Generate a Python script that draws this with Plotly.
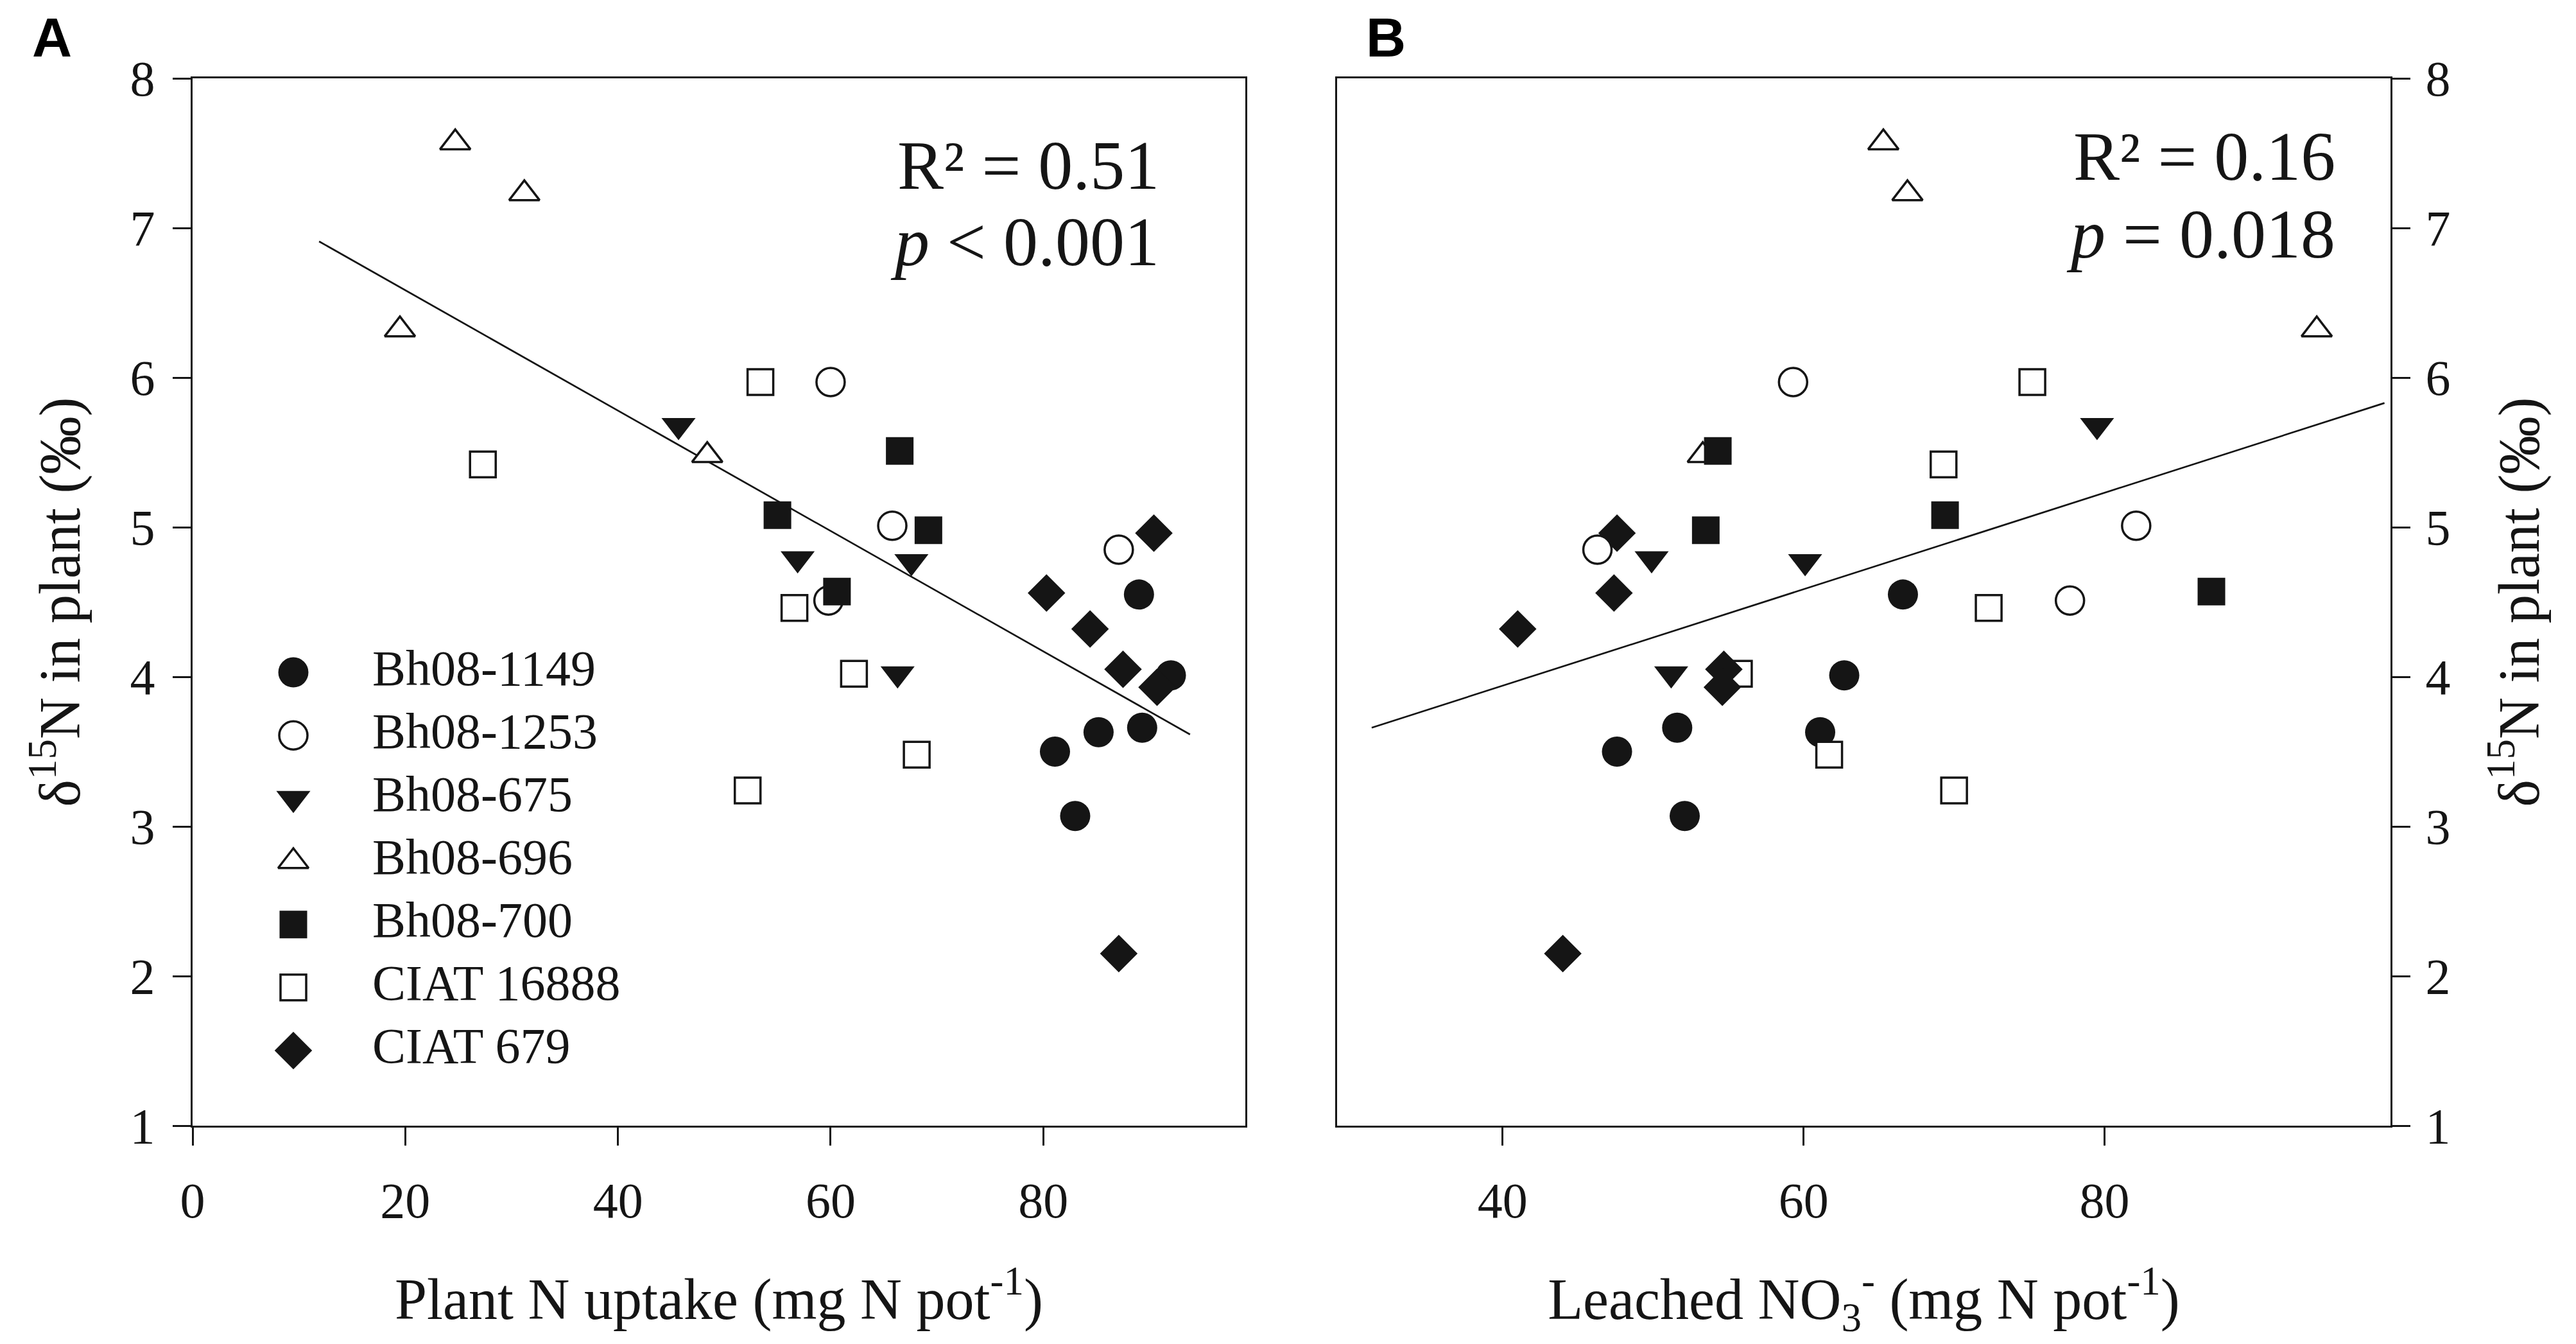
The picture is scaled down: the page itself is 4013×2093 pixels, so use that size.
import plotly.graph_objects as go

# varieties, in legend order
varieties = ["Bh08-1149", "Bh08-1253", "Bh08-675", "Bh08-696", "Bh08-700", "CIAT 16888", "CIAT 679"]

# delta15N in plant (per mil) and the two x variables
bh1149_d15n = [4.55, 4.01, 3.66, 3.63, 3.50, 3.07]
bh1149_uptake = [89.0, 92.0, 89.3, 85.2, 81.1, 83.0]
bh1149_leached = [66.6, 62.7, 51.6, 61.1, 47.6, 52.1]

bh1253_d15n = [5.97, 5.01, 4.51, 4.85]
bh1253_uptake = [60.0, 65.8, 59.8, 87.1]
bh1253_leached = [59.3, 82.1, 77.7, 46.3]

bh675_d15n = [5.68, 4.79, 4.77, 4.02]
bh675_uptake = [45.7, 56.9, 67.6, 66.3]
bh675_leached = [79.5, 49.9, 60.1, 51.2]

bh696_d15n = [7.57, 7.23, 6.32, 5.48]
bh696_uptake = [24.7, 31.2, 19.5, 48.4]
bh696_leached = [65.3, 66.9, 94.1, 53.3]

bh700_d15n = [5.51, 5.08, 4.98, 4.57]
bh700_uptake = [66.5, 55.0, 69.2, 60.6]
bh700_leached = [54.3, 69.4, 53.5, 87.1]

ciat16888_d15n = [5.97, 5.42, 4.46, 4.02, 3.48, 3.24]
ciat16888_uptake = [53.4, 27.3, 56.6, 62.2, 68.1, 52.2]
ciat16888_leached = [75.2, 69.3, 72.3, 55.7, 61.7, 70.0]

ciat679_d15n = [4.96, 4.56, 4.32, 4.05, 3.93, 2.15]
ciat679_uptake = [90.4, 80.3, 84.4, 87.5, 90.7, 87.1]
ciat679_leached = [47.6, 47.4, 41.0, 54.7, 54.6, 44.0]

# regression lines (end points as drawn)
fit_uptake_x = [11.9, 93.8]
fit_uptake_y = [6.91, 3.615]
fit_leached_x = [31.3, 98.6]
fit_leached_y = [3.66, 5.83]

stats_a = ["R² = 0.51", "<i>p</i> &lt; 0.001"]
stats_b = ["R² = 0.16", "<i>p</i> = 0.018"]

x_ticks_a = [0, 20, 40, 60, 80]
x_ticks_b = [40, 60, 80]
y_ticks = [1, 2, 3, 4, 5, 6, 7, 8]

# ---------------------------------------------------------------
W, H = 4013, 2093
ML, MR, MT, MB = 292, 297, 114, 348
PW = W - ML - MR
PH = H - MT - MB


def px_x(px):
    return (px - ML) / PW


def px_y(py):
    return (H - MB - py) / PH


BLACK = "#151515"
SERIF = "Liberation Serif"

# name -> (symbol, filled, y, x_a, x_b)
styles = {
    "Bh08-1149": ("circle", True, bh1149_d15n, bh1149_uptake, bh1149_leached),
    "Bh08-1253": ("circle", False, bh1253_d15n, bh1253_uptake, bh1253_leached),
    "Bh08-675": ("triangle-down", True, bh675_d15n, bh675_uptake, bh675_leached),
    "Bh08-696": ("triangle-up", False, bh696_d15n, bh696_uptake, bh696_leached),
    "Bh08-700": ("square", True, bh700_d15n, bh700_uptake, bh700_leached),
    "CIAT 16888": ("square", False, ciat16888_d15n, ciat16888_uptake, ciat16888_leached),
    "CIAT 679": ("diamond", True, ciat679_d15n, ciat679_uptake, ciat679_leached),
}
sizes = {"circle": 47, "triangle-down": 46, "triangle-up": 44, "square": 43, "diamond": 45}


def marker_for(symbol, filled):
    if filled:
        return dict(symbol=symbol, size=sizes[symbol], color=BLACK, line=dict(width=0))
    return dict(symbol=symbol, size=sizes[symbol] - 3, color="white",
                line=dict(color=BLACK, width=3.5))


fig = go.Figure()

# regression lines
fig.add_trace(go.Scatter(x=fit_uptake_x, y=fit_uptake_y, mode="lines",
                         line=dict(color=BLACK, width=2.7), showlegend=False,
                         xaxis="x", yaxis="y"))
fig.add_trace(go.Scatter(x=fit_leached_x, y=fit_leached_y, mode="lines",
                         line=dict(color=BLACK, width=2.7), showlegend=False,
                         xaxis="x2", yaxis="y2"))

draw_order = ["Bh08-1149", "Bh08-696", "Bh08-675", "CIAT 16888", "CIAT 679", "Bh08-1253", "Bh08-700"]
for name in draw_order:
    sym, filled, yv, xa, xb = styles[name]
    fig.add_trace(go.Scatter(x=xa, y=yv, mode="markers", name=name,
                             marker=marker_for(sym, filled), showlegend=False,
                             cliponaxis=False, xaxis="x", yaxis="y"))
    fig.add_trace(go.Scatter(x=xb, y=yv, mode="markers", name=name,
                             marker=marker_for(sym, filled), showlegend=False,
                             cliponaxis=False, xaxis="x2", yaxis="y2"))

# legend inside panel A, one row per variety on its own small axis
rows = list(range(len(varieties)))
for i, name in enumerate(varieties):
    sym, filled, _, _, _ = styles[name]
    fig.add_trace(go.Scatter(x=[0], y=[i], mode="markers", marker=marker_for(sym, filled),
                             showlegend=False, cliponaxis=False, xaxis="x3", yaxis="y3"))
fig.add_trace(go.Scatter(x=[1] * len(varieties), y=rows, mode="text", text=varieties,
                         textposition="middle right",
                         textfont=dict(family=SERIF, size=78, color=BLACK),
                         showlegend=False, cliponaxis=False, xaxis="x3", yaxis="y3"))

axis_common = dict(showline=True, linewidth=3, linecolor=BLACK, mirror=True,
                   ticks="outside", ticklen=28, tickwidth=3, tickcolor=BLACK,
                   showgrid=False, zeroline=False,
                   tickfont=dict(family=SERIF, size=78, color=BLACK))
title_font = dict(family=SERIF, size=90, color=BLACK)

dom_a = [0, px_x(1932)]
dom_b = [px_x(2075), 1]

fig.update_layout(
    width=W, height=H,
    margin=dict(l=ML, r=MR, t=MT, b=MB),
    paper_bgcolor="white", plot_bgcolor="white",
    showlegend=False,
    xaxis=dict(domain=dom_a, range=[0, 99], tickvals=x_ticks_a, anchor="y", ticklabelstandoff=18,
               title=dict(text="Plant N uptake (mg N pot<sup>-1</sup>)", font=title_font, standoff=80),
               **axis_common),
    yaxis=dict(domain=[0, 1], range=[1, 8], tickvals=y_ticks, anchor="x", ticklabelstandoff=12,
               title=dict(text="δ<sup>15</sup>N in plant (‰)", font=title_font, standoff=48),
               **axis_common),
    xaxis2=dict(domain=dom_b, range=[29, 99], tickvals=x_ticks_b, anchor="y2", ticklabelstandoff=18,
                title=dict(text="Leached NO<sub>3</sub><sup>-</sup> (mg N pot<sup>-1</sup>)",
                           font=title_font, standoff=80),
                **axis_common),
    yaxis2=dict(domain=[0, 1], range=[1, 8], tickvals=y_ticks, anchor="x2", side="right",
                ticklabelstandoff=8,
                title=dict(text="δ<sup>15</sup>N in plant (‰)", font=title_font, standoff=76),
                **axis_common),
    xaxis3=dict(domain=[px_x(449), px_x(572)], range=[0, 1], visible=False, anchor="y3"),
    yaxis3=dict(domain=[px_y(1677), px_y(990)], range=[len(varieties) - 0.5, -0.5],
                visible=False, anchor="x3"),
)

ann_font = dict(family=SERIF, size=108, color=BLACK)
annotations = [
    dict(text=stats_a[0], x=px_x(1800), y=px_y(249), xanchor="right", yanchor="middle"),
    dict(text=stats_a[1], x=px_x(1800), y=px_y(369), xanchor="right", yanchor="middle"),
    dict(text=stats_b[0], x=px_x(3632), y=px_y(236), xanchor="right", yanchor="middle"),
    dict(text=stats_b[1], x=px_x(3632), y=px_y(357), xanchor="right", yanchor="middle"),
]
for a in annotations:
    fig.add_annotation(xref="paper", yref="paper", showarrow=False, font=ann_font, **a)

for letter, lx in [("A", 40), ("B", 2118)]:
    fig.add_annotation(text="<b>%s</b>" % letter, xref="paper", yref="paper",
                       x=px_x(lx), y=px_y(50), xanchor="left", yanchor="middle",
                       showarrow=False, font=dict(family="Liberation Sans", size=86, color="black"))

fig.write_html("out.html")
